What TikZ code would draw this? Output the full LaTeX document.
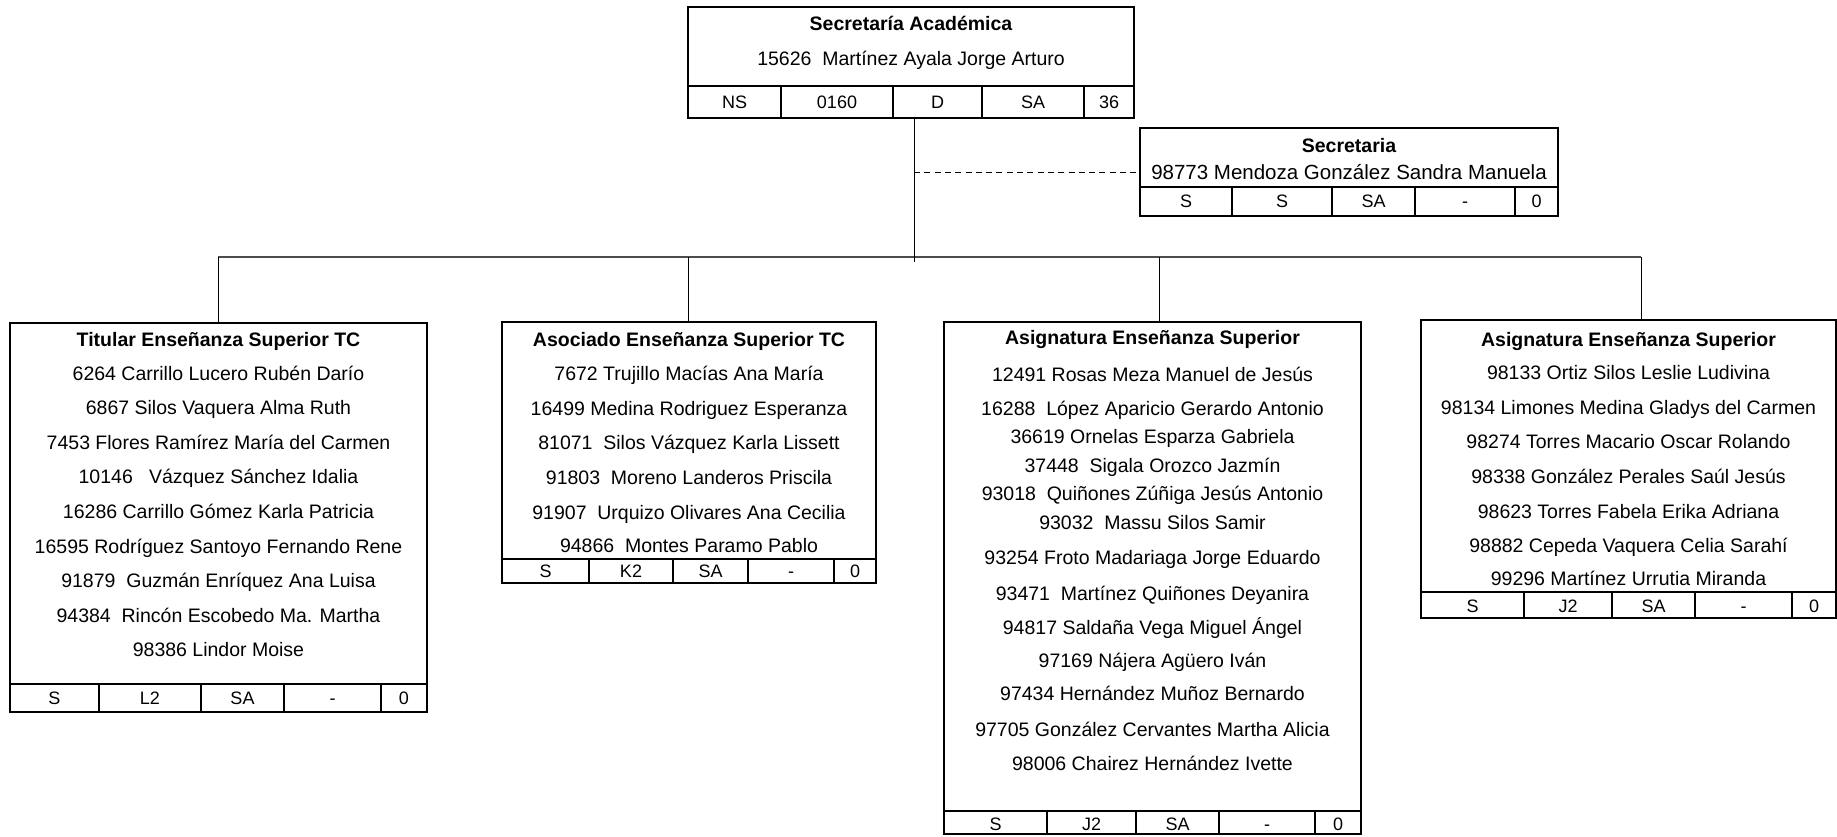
\documentclass[tikz,border=0pt]{standalone}
\usepackage{fontspec}
\setmainfont{Liberation Sans}
\begin{document}
\begin{tikzpicture}[x=1pt,y=-1pt,
  box/.style={draw, line width=1.6pt, rectangle, inner sep=0pt},
  cellline/.style={line width=1.3pt},
  conn/.style={line width=0.9pt},
  bus/.style={line width=2pt, draw=black!70},
  dashconn/.style={line width=0.9pt, dash pattern=on 6pt off 4.3pt},
  txt/.style={inner sep=0pt, text height=14pt, text depth=0pt, font=\fontsize{19.5}{22}\selectfont},
  ttl/.style={inner sep=0pt, text height=14pt, text depth=0pt, font=\fontsize{19.5}{22}\selectfont\bfseries},
  cell/.style={inner sep=0pt, text height=13pt, text depth=0pt, font=\fontsize{18}{20}\selectfont}]
\useasboundingbox (0,0) rectangle (1837,836);

% ---------- top box ----------
\node[box, minimum width=446pt, minimum height=111pt] (top) at (911,62.5) {};
\node[ttl] (topt) at (911,23) {Secretaría Académica};
\node[txt] (topn) at (911,58) {15626\ \ Martínez Ayala Jorge Arturo};
\draw[cellline] (688,86) -- (1134,86);
\foreach \x in {781,893,982,1084} \draw[cellline] (\x,86) -- (\x,118);
\foreach \x/\t [count=\i] in {734.5/NS,837/0160,937.5/D,1033/SA,1109/36}
  \node[cell] (topc\i) at (\x,102) {\t};

% ---------- secretaria ----------
\node[box, minimum width=418pt, minimum height=88pt] (sec) at (1349,172) {};
\node[ttl] (sect) at (1349,145) {Secretaria};
\node[txt, font=\fontsize{20.5}{23}\selectfont] (secn) at (1349,172) {98773 Mendoza González Sandra Manuela};
\draw[cellline] (1140,187) -- (1558,187);
\foreach \x in {1232,1332,1415,1515} \draw[cellline] (\x,187) -- (\x,216);
\foreach \x/\t [count=\i] in {1186/S,1282/S,1373.5/SA,1465/-,1536.5/0}
  \node[cell] (secc\i) at (\x,201) {\t};

% ---------- box 1 ----------
\node[box, minimum width=417pt, minimum height=389pt] (b1) at (218.5,517.5) {};
\node[ttl] (b1t) at (218.5,339) {Titular Enseñanza Superior TC};
\foreach \y/\t [count=\i] in {
  373/6264 Carrillo Lucero Rubén Darío,
  407.6/6867 Silos Vaquera Alma Ruth,
  442.2/7453 Flores Ramírez María del Carmen,
  476.8/10146\ \ \ Vázquez Sánchez Idalia,
  511.4/16286 Carrillo Gómez Karla Patricia,
  546/16595 Rodríguez Santoyo Fernando Rene,
  580.6/91879\ \ Guzmán Enríquez Ana Luisa,
  615.2/94384\ \ Rincón Escobedo Ma. Martha,
  649.8/98386 Lindor Moise}
  \node[txt] (b1l\i) at (218.5,\y) {\t};
\draw[cellline] (10,684) -- (427,684);
\foreach \x in {99,201,284,381} \draw[cellline] (\x,684) -- (\x,712);
\foreach \x/\t [count=\i] in {54.5/S,150/L2,242.5/SA,332.5/-,404/0}
  \node[cell] (b1c\i) at (\x,698) {\t};

% ---------- box 2 ----------
\node[box, minimum width=374pt, minimum height=261pt] (b2) at (689,452.5) {};
\node[ttl] (b2t) at (689,339) {Asociado Enseñanza Superior TC};
\foreach \y/\t [count=\i] in {
  373/7672 Trujillo Macías Ana María,
  408/16499 Medina Rodriguez Esperanza,
  442/81071\ \ Silos Vázquez Karla Lissett,
  477/91803\ \ Moreno Landeros Priscila,
  512/91907\ \ Urquizo Olivares Ana Cecilia,
  545/94866\ \ Montes Paramo Pablo}
  \node[txt] (b2l\i) at (689,\y) {\t};
\draw[cellline] (502,559) -- (876,559);
\foreach \x in {589,673,748,834} \draw[cellline] (\x,559) -- (\x,583);
\foreach \x/\t [count=\i] in {545.5/S,631/K2,710.5/SA,791/-,855/0}
  \node[cell] (b2c\i) at (\x,571) {\t};

% ---------- box 3 ----------
\node[box, minimum width=417pt, minimum height=512pt] (b3) at (1152.5,578) {};
\node[ttl] (b3t) at (1152.5,337) {Asignatura Enseñanza Superior};
\foreach \y/\t [count=\i] in {
  374/12491 Rosas Meza Manuel de Jesús,
  408/16288\ \ López Aparicio Gerardo Antonio,
  436/36619 Ornelas Esparza Gabriela,
  465/37448\ \ Sigala Orozco Jazmín,
  493/93018\ \ Quiñones Zúñiga Jesús Antonio,
  522/93032\ \ Massu Silos Samir,
  557/93254 Froto Madariaga Jorge Eduardo,
  593/93471\ \ Martínez Quiñones Deyanira,
  627/94817 Saldaña Vega Miguel Ángel,
  660/97169 Nájera Agüero Iván,
  693/97434 Hernández Muñoz Bernardo,
  729/97705 González Cervantes Martha Alicia,
  763/98006 Chairez Hernández Ivette}
  \node[txt] (b3l\i) at (1152.5,\y) {\t};
\draw[cellline] (944,811) -- (1361,811);
\foreach \x in {1047,1136,1219,1315} \draw[cellline] (\x,811) -- (\x,834);
\foreach \x/\t [count=\i] in {995.5/S,1091.5/J2,1177.5/SA,1267/-,1338/0}
  \node[cell] (b3c\i) at (\x,824) {\t};

% ---------- box 4 ----------
\node[box, minimum width=415pt, minimum height=298pt] (b4) at (1628.5,469) {};
\node[ttl] (b4t) at (1628.5,339) {Asignatura Enseñanza Superior};
\foreach \y/\t [count=\i] in {
  372/98133 Ortiz Silos Leslie Ludivina,
  407/98134 Limones Medina Gladys del Carmen,
  441/98274 Torres Macario Oscar Rolando,
  476/98338 González Perales Saúl Jesús,
  511/98623 Torres Fabela Erika Adriana,
  545/98882 Cepeda Vaquera Celia Sarahí,
  578/99296 Martínez Urrutia Miranda}
  \node[txt] (b4l\i) at (1628.5,\y) {\t};
\draw[cellline] (1421,592) -- (1836,592);
\foreach \x in {1524,1612,1695,1792} \draw[cellline] (\x,592) -- (\x,618);
\foreach \x/\t [count=\i] in {1472.5/S,1568/J2,1653.5/SA,1743.5/-,1814/0}
  \node[cell] (b4c\i) at (\x,606) {\t};

% ---------- connectors ----------
\coordinate (j) at (914,257);
\coordinate (jb) at (914,262);
\coordinate (s1) at (218,257);
\coordinate (s2) at (688,257);
\coordinate (s3) at (1159,257);
\coordinate (s4) at (1641,257);
\draw[bus] (s1) -- (s4);
\draw[conn] (top.south -| j) -- (jb);
\draw[dashconn] (j |- sec.west) -- (sec.west);
\draw[conn] (s1) -- (s1 |- b1.north);
\draw[conn] (s2) -- (s2 |- b2.north);
\draw[conn] (s3) -- (s3 |- b3.north);
\draw[conn] (s4) -- (s4 |- b4.north);
\end{tikzpicture}
\end{document}
